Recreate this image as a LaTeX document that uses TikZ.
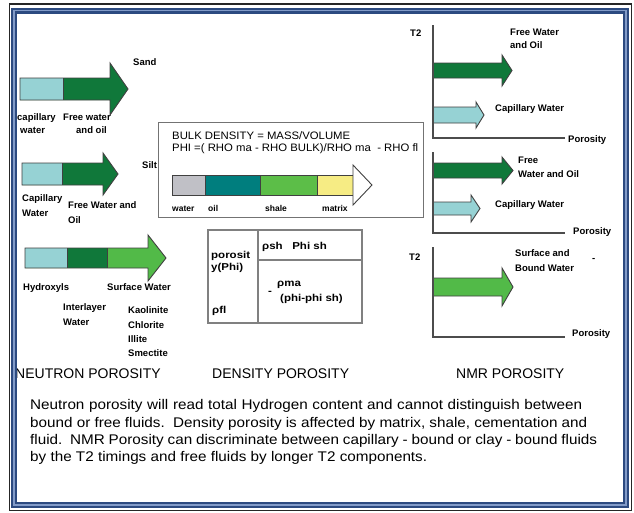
\documentclass[tikz,border=0pt]{standalone}
\usepackage{fontspec}
\setmainfont{Liberation Sans}
\newfontfamily\widefont[FakeStretch=1.15]{Liberation Sans}
\newfontfamily\parafont[FakeStretch=1.09]{Liberation Sans}
\newfontfamily\eqnfont[FakeStretch=1.05]{Liberation Sans}
\definecolor{capcyan}{RGB}{150,210,212}
\definecolor{dkgreen}{RGB}{16,120,58}
\definecolor{mdgreen}{RGB}{82,186,72}
\definecolor{wgray}{RGB}{192,192,198}
\definecolor{oilteal}{RGB}{0,126,126}
\definecolor{shgreen}{RGB}{92,190,72}
\definecolor{myellow}{RGB}{246,236,132}
\definecolor{framenavy}{RGB}{44,74,128}
\definecolor{framelight}{RGB}{130,155,200}
\begin{document}
\begin{tikzpicture}[x=1pt,y=-1pt,
  lbl/.style={anchor=base west, inner sep=0pt, font=\fontsize{9.5}{11}\selectfont\bfseries},
  sml/.style={anchor=base west, inner sep=0pt, font=\fontsize{8.5}{10}\selectfont\bfseries},
  tbl/.style={anchor=base west, inner sep=0pt, font=\fontsize{10}{12}\selectfont\widefont\bfseries},
  eqn/.style={anchor=base west, inner sep=0pt, font=\fontsize{10.8}{12}\selectfont\eqnfont},
  ttl/.style={anchor=base west, inner sep=0pt, font=\fontsize{14}{16}\selectfont},
  para/.style={anchor=base west, inner sep=0pt, font=\fontsize{14}{17}\selectfont\parafont},
  outl/.style={draw=black!75, line width=0.9pt, line join=miter},
  axis/.style={draw=black!70, line width=1.4pt},
  boxline/.style={draw=black!55, line width=0.9pt},
  tline/.style={draw=black!50, line width=1.3pt}]
\useasboundingbox (0,0) rectangle (634,512);
\fill[white] (0,0) rectangle (634,512);

% ---------------- NEUTRON ----------------
% arrow 1 (Sand)
\fill[dkgreen] (20,78) -- (110,78) -- (110,63) -- (128,89) -- (110,115) -- (110,100) -- (20,100) -- cycle;
\fill[capcyan] (20,78) rectangle (63,100);
\draw[outl] (20,78) -- (110,78) -- (110,63) -- (128,89) -- (110,115) -- (110,100) -- (20,100) -- cycle;
\draw[outl] (63,78) -- (63,100);
\node[lbl] (sand) at (133,65.5) {Sand};
\node[lbl] (cw1a) at (17,120.5) {capillary};
\node[lbl] (cw1b) at (20,133.5) {water};
\node[lbl] (fw1a) at (63,120.5) {Free water};
\node[lbl] (fw1b) at (76,133.5) {and oil};

% arrow 2 (Silt)
\fill[dkgreen] (22,163) -- (103,163) -- (103,153) -- (118,174) -- (103,195) -- (103,185) -- (22,185) -- cycle;
\fill[capcyan] (22,163) rectangle (62,185);
\draw[outl] (22,163) -- (103,163) -- (103,153) -- (118,174) -- (103,195) -- (103,185) -- (22,185) -- cycle;
\draw[outl] (62,163) -- (62,185);
\node[lbl] (silt) at (142,168.5) {Silt};
\node[lbl] (cw2a) at (22,201.5) {Capillary};
\node[lbl] (cw2b) at (22,216.5) {Water};
\node[lbl] (fw2a) at (68,208.5) {Free Water and};
\node[lbl] (fw2b) at (68,223.5) {Oil};

% arrow 3 (clay)
\fill[mdgreen] (25,248) -- (148,248) -- (148,235) -- (166,258) -- (148,281) -- (148,268) -- (25,268) -- cycle;
\fill[capcyan] (25,248) rectangle (67,268);
\fill[dkgreen] (67,248) rectangle (107,268);
\draw[outl] (25,248) -- (148,248) -- (148,235) -- (166,258) -- (148,281) -- (148,268) -- (25,268) -- cycle;
\draw[outl] (67,248) -- (67,268);
\draw[outl] (107,248) -- (107,268);
\node[lbl] (hyd) at (23,290.5) {Hydroxyls};
\node[lbl] (surf) at (107,290.5) {Surface Water};
\node[lbl] (int1) at (63,310.5) {Interlayer};
\node[lbl] (int2) at (63,325.5) {Water};
\node[lbl] (kao) at (128,313.5) {Kaolinite};
\node[lbl] (chl) at (128,328.5) {Chlorite};
\node[lbl] (ill) at (128,342.5) {Illite};
\node[lbl] (sme) at (128,356.5) {Smectite};

% ---------------- DENSITY ----------------
\draw[boxline] (158,122) rectangle (423,217);
\node[eqn] (bulk) at (172,139) {BULK DENSITY = MASS/VOLUME};
\node[eqn] (phi) at (172,151) {PHI =( RHO ma - RHO BULK)/RHO ma\ \ - RHO fl};
\fill[wgray] (172,175) rectangle (205,195);
\fill[oilteal] (205,175) rectangle (260,195);
\fill[shgreen] (260,175) rectangle (317,195);
\fill[myellow] (317,175) rectangle (353,195);
\draw[outl] (172,175) rectangle (353,195);
\draw[outl] (205,175) -- (205,195) (260,175) -- (260,195) (317,175) -- (317,195);
\filldraw[outl, fill=white] (353,165) -- (372,185) -- (353,205) -- cycle;
\node[sml] (lwat) at (172,211) {water};
\node[sml] (loil) at (208,211) {oil};
\node[sml] (lsha) at (265,211) {shale};
\node[sml] (lmat) at (322,211) {matrix};

% table
\draw[tline] (208,230) rectangle (362,323);
\draw[tline] (258,230) -- (258,323);
\draw[tline] (258,260) -- (362,260);
\node[tbl] (por1) at (211,258) {porosit};
\node[tbl] (por2) at (211,270) {y(Phi)};
\node[tbl] (rfl) at (212,313) {ρfl};
\node[tbl] (rsh) at (262,249) {ρsh\ \ \ Phi sh};
\node[tbl] (rma) at (277,286) {ρma};
\node[tbl] (phis) at (280,301) {(phi-phi sh)};
\node[tbl] (minus) at (268,294) {-};

% ---------------- NMR ----------------
% chart 1
\fill[dkgreen] (433,63) -- (502,63) -- (502,55) -- (512,70.5) -- (502,86) -- (502,78) -- (433,78) -- cycle;
\draw[outl] (433,63) -- (502,63) -- (502,55) -- (512,70.5) -- (502,86) -- (502,78) -- (433,78);
\fill[capcyan] (433,107) -- (476,107) -- (476,102) -- (484,115) -- (476,128) -- (476,123) -- (433,123) -- cycle;
\draw[outl] (433,107) -- (476,107) -- (476,102) -- (484,115) -- (476,128) -- (476,123) -- (433,123);
\draw[axis] (433,25) -- (433,138) -- (565,138);
\node[lbl] (t2a) at (410,36.5) {T2};
\node[lbl] (n1a) at (510,35.5) {Free Water};
\node[lbl] (n1b) at (510,48.5) {and Oil};
\node[lbl] (n1c) at (495,111.5) {Capillary Water};
\node[lbl] (p1) at (568,142.5) {Porosity};

% chart 2
\fill[dkgreen] (433,163) -- (502,163) -- (502,157) -- (513,170.5) -- (502,184) -- (502,178) -- (433,178) -- cycle;
\draw[outl] (433,163) -- (502,163) -- (502,157) -- (513,170.5) -- (502,184) -- (502,178) -- (433,178);
\fill[capcyan] (433,202) -- (471,202) -- (471,195) -- (480,208.5) -- (471,222) -- (471,215) -- (433,215) -- cycle;
\draw[outl] (433,202) -- (471,202) -- (471,195) -- (480,208.5) -- (471,222) -- (471,215) -- (433,215);
\draw[axis] (433,152) -- (433,233) -- (565,233);
\node[lbl] (n2a) at (518,163.5) {Free};
\node[lbl] (n2b) at (518,177.5) {Water and Oil};
\node[lbl] (n2c) at (495,207.5) {Capillary Water};
\node[lbl] (p2) at (573,234.5) {Porosity};

% chart 3
\fill[mdgreen] (433,278) -- (502,278) -- (502,268) -- (513,287) -- (502,306) -- (502,296) -- (433,296) -- cycle;
\draw[outl] (433,278) -- (502,278) -- (502,268) -- (513,287) -- (502,306) -- (502,296) -- (433,296);
\draw[axis] (433,247) -- (433,337) -- (565,337);
\node[lbl] (t2b) at (409,260.5) {T2};
\node[lbl] (n3a) at (515,256.5) {Surface and};
\node[lbl] (n3b) at (515,271.5) {Bound Water};
\node[lbl] (dash3) at (592,261) {-};
\node[lbl] (p3) at (572,336.5) {Porosity};

% ---------------- TITLES ----------------
\node[ttl] (tneu) at (15,378) {NEUTRON POROSITY};
\node[ttl] (tden) at (212,378) {DENSITY POROSITY};
\node[ttl] (tnmr) at (456,378) {NMR POROSITY};

% ---------------- PARAGRAPH ----------------
\node[para] (l1) at (30,409) {\makebox[552pt][s]{Neutron porosity will read total Hydrogen content and cannot distinguish between}};
\node[para] (l2) at (30,427) {\makebox[557pt][s]{bound or free fluids.\ \ Density porosity is affected by matrix, shale, cementation and}};
\node[para] (l3) at (30,444) {\makebox[567pt][s]{fluid.\ \ NMR Porosity can discriminate between capillary - bound or clay - bound fluids}};
\node[para] (l4) at (30,461) {by the T2 timings and free fluids by longer T2 components.};

% ---------------- FRAME ----------------
\draw[black!85, line width=1.2pt] (9.5,4) rectangle (631.5,510.5);
\draw[framenavy, line width=6pt] (14,10.5) rectangle (626,505);
\draw[framelight, line width=1.5pt] (14,10.5) rectangle (626,505);
\end{tikzpicture}
\end{document}
